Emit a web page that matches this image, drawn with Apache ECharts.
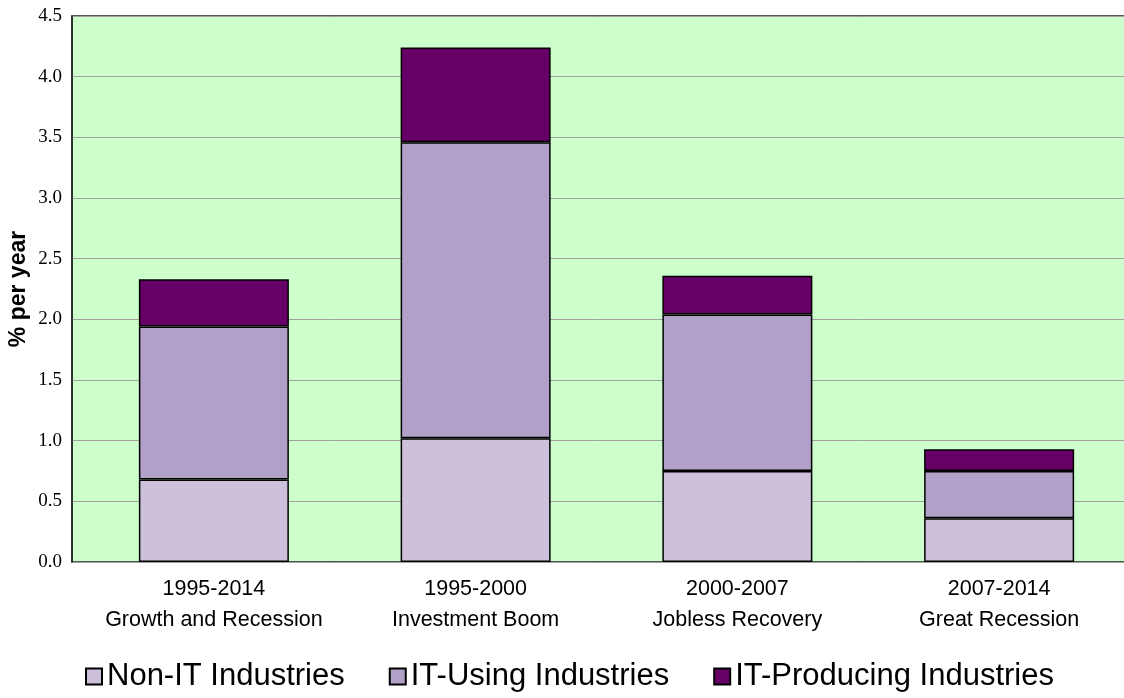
<!DOCTYPE html>
<html>
<head>
<meta charset="utf-8">
<script src="https://cdn.jsdelivr.net/npm/echarts@6/dist/echarts.min.js"></script>
<style>
html, body {margin: 0; padding: 0; background: #fff;}
#chart {width: 1124px; height: 698px;}
</style>
</head>
<body>
<div id="chart"></div>
<script>
// periods on the x axis
var periods = ['1995-2014\nGrowth and Recession', '1995-2000\nInvestment Boom',
               '2000-2007\nJobless Recovery', '2007-2014\nGreat Recession'];
// contributions, % per year
var nonIT = [0.68, 1.02, 0.75, 0.36];
var itUsing = [1.26, 2.44, 1.29, 0.39];
var itProducing = [0.39, 0.78, 0.32, 0.18];
var yTicks = [0, 0.5, 1.0, 1.5, 2.0, 2.5, 3.0, 3.5, 4.0, 4.5];

var chart = echarts.init(document.getElementById('chart'));

function barSeries(name, data, color){
    return {
        name: name,
        type: 'bar',
        stack: 'total',
        xAxisIndex: 1,
        yAxisIndex: 1,
        barWidth: 150,
        data: data,
        itemStyle: {color: color, borderColor: '#000', borderWidth: 1.5}
    };
}

var option = {
    animation: false,
    grid: [
        // background, border and gridlines
        {left: 72, top: 16, right: -10, bottom: 136, show: true, outerBoundsMode: 'none',
         containLabel: false,
         backgroundColor: '#CCFFCC', borderColor: '#222', borderWidth: 1.5},
        // bars
        {left: 83, top: 16, width: 1047, bottom: 136, outerBoundsMode: 'none', containLabel: false}
    ],
    legend: {
        left: 80,
        top: 656,
        itemWidth: 16,
        itemHeight: 16,
        itemGap: 44,
        icon: 'rect',
        textStyle: {fontFamily: 'Liberation Sans', fontSize: 31, color: '#000'},
        data: ['Non-IT Industries', 'IT-Using Industries', 'IT-Producing Industries']
    },
    xAxis: [
        {gridIndex: 0, type: 'category', data: periods, show: false},
        {gridIndex: 1, type: 'category', data: periods,
         axisLine: {show: false}, axisTick: {show: false},
         axisLabel: {interval: 0, margin: 12, fontFamily: 'Liberation Sans', fontSize: 21.5,
                     lineHeight: 31, color: '#000', hideOverlap: false}}
    ],
    yAxis: [
        {gridIndex: 0, type: 'value', min: 0, max: 4.5, interval: 0.5,
         name: '% per year', nameLocation: 'middle', nameGap: 42, nameMoveOverlap: false,
         nameTextStyle: {fontFamily: 'Liberation Sans', fontWeight: 'bold', fontSize: 23, color: '#000'},
         axisLine: {show: true, lineStyle: {color: '#222', width: 1.5}},
         axisTick: {show: false},
         axisLabel: {margin: 10, fontFamily: 'Liberation Serif', fontSize: 19, color: '#000',
                     formatter: function(v){ return v.toFixed(1); }},
         splitLine: {show: true, lineStyle: {color: '#A0A0A0', width: 1}}},
        {gridIndex: 1, type: 'value', min: 0, max: yTicks[yTicks.length - 1], show: false}
    ],
    series: [
        barSeries('Non-IT Industries', nonIT, '#CCC0DA'),
        barSeries('IT-Using Industries', itUsing, '#B1A0C7'),
        barSeries('IT-Producing Industries', itProducing, '#660066')
    ]
};

chart.setOption(option);
</script>
</body>
</html>
